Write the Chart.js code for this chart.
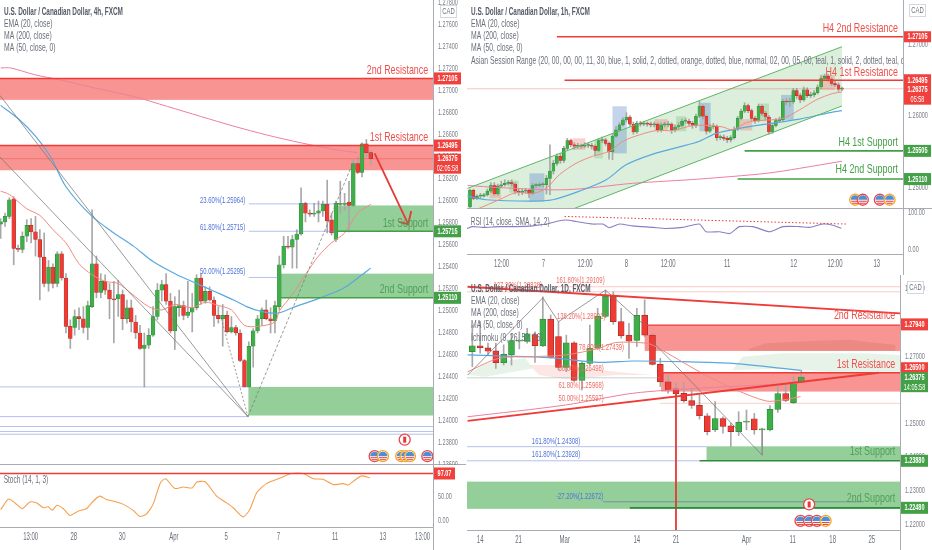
<!DOCTYPE html>
<html lang="en">

<head>
    <meta charset="UTF-8">
    <title>USDCAD</title>
    <script src="https://cdn.jsdelivr.net/npm/chart.js"></script>
    <style>
        html, body { margin: 0; padding: 0; background: #fff; overflow: hidden; }
        canvas { position: absolute; display: block; }
    </style>
</head>

<body>
    <canvas id="c4h" style="left:0;top:0" width="466" height="465"></canvas>
    <canvas id="cStoch" style="left:0;top:465px" width="466" height="85"></canvas>
    <canvas id="c1h" style="left:467px;top:0" width="465" height="209"></canvas>
    <canvas id="cRsi" style="left:467px;top:209px" width="465" height="66"></canvas>
    <canvas id="c1d" style="left:467px;top:275px" width="465" height="275"></canvas>
</body>

</html>
<script>
    // all prices are in 1/10000 (12650 = 1.26500)

    // 4h
    const open4h = [12578,12580,12585,12601,12556,12555,12567,12577,12571,12564,12548,12524,12539,12524,12551,12529,12485,12484,12494,12492,12484,12503,12542,12516,12526,12518,12510,12510,12514,12492,12502,12489,12479,12465,12468,12477,12494,12518,12523,12508,12481,12502,12504,12495,12498,12502,12529,12508,12517,12509,12495,12492,12495,12480,12484,12479,12454,12430,12467,12481,12492,12500,12492,12490,12503,12541,12558,12557,12564,12569,12597,12588,12587,12588,12590,12596,12582,12564,12596,12596,12598,12595,12633,12625,12651,12643];
    const high4h = [12583,12588,12602,12603,12559,12571,12582,12583,12585,12573,12570,12545,12542,12553,12553,12533,12491,12500,12502,12503,12508,12591,12549,12533,12532,12524,12526,12527,12518,12509,12509,12495,12486,12479,12483,12503,12524,12527,12533,12515,12512,12518,12508,12526,12515,12532,12533,12521,12521,12512,12503,12505,12499,12494,12486,12482,12455,12471,12483,12495,12502,12509,12502,12508,12549,12567,12567,12568,12573,12611,12598,12591,12597,12599,12599,12618,12588,12599,12617,12606,12617,12636,12639,12652,12655,12645];
    const low4h = [12565,12576,12583,12541,12553,12552,12562,12561,12549,12509,12521,12517,12520,12521,12527,12479,12465,12477,12482,12479,12473,12502,12511,12511,12514,12492,12470,12494,12482,12488,12480,12474,12464,12430,12465,12476,12491,12508,12505,12479,12464,12494,12491,12493,12480,12500,12505,12506,12508,12485,12488,12467,12479,12479,12477,12453,12430,12430,12448,12479,12486,12491,12479,12479,12500,12538,12556,12538,12538,12568,12580,12585,12585,12580,12585,12570,12568,12562,12588,12591,12571,12594,12624,12621,12638,12632];
    const close4h = [12580,12585,12600,12556,12555,12567,12577,12571,12564,12548,12524,12539,12524,12551,12529,12485,12474,12494,12492,12484,12504,12542,12516,12526,12518,12510,12509,12514,12492,12502,12489,12479,12465,12468,12477,12494,12518,12523,12508,12481,12503,12504,12495,12498,12502,12529,12508,12517,12509,12495,12492,12495,12480,12484,12479,12454,12430,12467,12481,12492,12500,12492,12490,12504,12541,12558,12557,12564,12569,12597,12588,12587,12588,12590,12596,12581,12570,12597,12597,12597,12595,12633,12625,12651,12643,12637.5];

    const ema4hX = [0,2,6,9,12,15,18,21,24,27,30,34,37,40,44,47,50,53,56,59,63,64,67,70,73,76,79,82,85];
    const ema4hY = [12608,12605,12592,12586,12573,12561,12542,12532,12526,12524,12515,12503,12500,12505,12502,12507,12504,12500,12486,12485,12489,12499,12514,12532,12549,12561,12570,12588,12596];
    const ma504hX = [0,4,8,11.5,15,21,26,30.5,35,40.5,45,49,53.5,56.5,59.5,63.5,67,73.4,78.8,83,85];
    const ma504hY = [12686,12674,12658,12639,12612,12585,12570,12558,12544,12532,12524,12517,12509,12503,12499,12497,12502,12511,12520,12532,12538];
    const ma2004hX = [0,2.3,7.7,13.8,21.4,30.6,38.3,45.9,53.6,61.2,68.9,76.5,81.9];
    const ma2004hY = [12720,12720,12714,12709,12702,12694,12685,12676,12667,12659,12652,12646,12643];

    const stochX = [0,1.8,3.3,5,6.7,8.3,9.8,10.9,11.9,12.9,14.4,15.9,18,19.7,21.3,22.8,24.3,26.6,28.2,30.5,32,33.5,35,36.7,37.9,40,41.9,44,45,47,49.6,51.9,53.4,55.7,57.2,58.8,61,64,66.8,69.5,71.8,74,76.4,78.7,79.8,81.3,82.9,84.8];
    const stochY = [22,44,36,24,38,36,26,28,21,31,24,10,20,24,40,50,43,38,33,20,8,13,33,78,86,66,69,67,79,80,50,36,26,7,22,57,76,87,97,97,86,85,74,76,73,83,92,88];

    const ticks4h = [12780,12760,12740,12720,12700,12680,12660,12640,12620,12600,12580,12560,12540,12520,12500,12480,12460,12440,12420,12400,12380,12360];
    const timePos4h = [6.9,16.8,27.9,39.8,51.8,63.8,76.8,87.8,96.9];
    const timeLabels4h = ['13:00','28','30','Apr','5','7','11','13','13:00'];

    // 1h
    const open1h = [12472,12495,12484,12487,12487,12489,12494,12502,12490,12501,12503,12505,12506,12504,12494,12492,12494,12495,12491,12502,12502,12503,12503,12512,12522,12533,12543,12537,12554,12565,12559,12557,12558,12557,12558,12558,12557,12551,12565,12566,12561,12549,12571,12580,12587,12594,12598,12588,12577,12589,12588,12589,12588,12587,12588,12580,12587,12587,12588,12580,12584,12586,12592,12592,12589,12586,12599,12613,12599,12578,12584,12585,12569,12570,12568,12566,12569,12581,12596,12606,12614,12607,12596,12593,12613,12603,12598,12577,12586,12593,12594,12620,12619,12619,12635,12628,12622,12636,12628,12629,12632,12640,12652,12655,12651,12645,12643,12637];
    const high1h = [12497,12497,12489,12491,12491,12497,12506,12506,12504,12508,12510,12509,12510,12506,12497,12497,12498,12497,12505,12505,12506,12506,12516,12559,12537,12546,12547,12557,12568,12567,12562,12561,12560,12562,12561,12561,12559,12568,12570,12568,12563,12575,12585,12590,12597,12604,12600,12591,12592,12592,12592,12591,12591,12591,12590,12590,12591,12592,12590,12587,12590,12595,12596,12595,12592,12602,12620,12615,12601,12588,12589,12587,12573,12573,12571,12572,12584,12599,12609,12618,12616,12609,12599,12616,12615,12606,12600,12589,12596,12598,12623,12624,12624,12638,12638,12631,12640,12639,12633,12635,12643,12656,12658,12658,12653,12648,12646,12640];
    const low1h = [12466,12482,12482,12484,12486,12487,12492,12488,12488,12499,12501,12502,12501,12490,12488,12489,12491,12485,12489,12499,12500,12500,12490,12489,12518,12530,12533,12534,12552,12556,12553,12554,12554,12555,12555,12553,12544,12549,12562,12558,12539,12538,12569,12578,12585,12591,12585,12574,12575,12585,12586,12585,12584,12584,12577,12577,12584,12584,12575,12577,12581,12584,12589,12586,12582,12583,12597,12595,12574,12576,12581,12565,12566,12565,12562,12563,12567,12579,12594,12604,12604,12593,12589,12591,12600,12594,12574,12575,12584,12590,12592,12615,12613,12617,12624,12618,12620,12625,12625,12626,12630,12638,12650,12648,12642,12640,12634,12635];
    const close1h = [12495,12484,12487,12487,12489,12494,12502,12490,12501,12503,12505,12506,12504,12494,12492,12494,12495,12491,12502,12502,12503,12503,12512,12522,12533,12543,12537,12554,12565,12559,12557,12558,12557,12558,12558,12557,12551,12565,12566,12561,12549,12571,12580,12587,12594,12598,12588,12577,12589,12588,12589,12588,12587,12588,12580,12587,12587,12588,12580,12584,12586,12592,12592,12589,12586,12599,12613,12599,12578,12584,12585,12569,12570,12568,12566,12569,12581,12596,12606,12614,12607,12596,12593,12613,12603,12598,12577,12586,12593,12594,12620,12619,12619,12635,12628,12622,12636,12628,12629,12632,12640,12652,12655,12651,12645,12643,12637,12637.5];

    const ema1hX = [2.2,8.4,13.2,18,21.9,25.7,30.5,35.3,40.1,44,48.8,53.6,58.3,64.1,68.9,72.7,75.6,79.5,83.3,90,94.8,99.6,104.4,107];
    const ema1hY = [12469,12482,12492,12491,12498,12517,12533,12543,12550,12564,12573,12579,12579,12586,12586,12584,12580,12590,12593,12596,12608,12622,12631,12633];
    const ma501hX = [-0.7,4.6,17.1,23.8,31.5,39.2,44.9,52.6,60.3,66,70.8,77.5,85.2,94.8,102.5,107];
    const ma501hY = [12487,12482,12480,12482,12494,12510,12531,12546,12556,12564,12575,12582,12588,12595,12603,12607];
    const ma2001hX = [-0.7,8.4,27.6,46.8,66,85.2,94.8,107];
    const ma2001hY = [12502,12499,12496,12505,12511,12519,12526,12536];

    const rsiX = [-0.9,0.8,3.6,8.4,13.2,18,21.9,24.8,27.6,30.5,35.3,38.2,40.1,43,46.8,52.6,56.4,61.2,66,67.9,71.8,74.7,77.5,81.4,86.2,90,94.8,97.7,101.5,104.4,106.8];
    const rsiY = [56,61,59,61,61,63,68,75,79,75,68,68,58,68,63,59,56,59,68,47,47,42,61,61,47,61,61,59,68,65,56];

    const ticks1h = [12700,12600,12500];
    const timePos1h = [9.1,21.1,33.1,45,57,74,93.1,105,117];
    const timeLabels1h = ['12:00','7','12:00','8','12:00','11','12','12:00','13'];

    // 1D
    const open1d = [12713,12730,12724,12715,12680,12703,12744,12743,12764,12730,12810,12758,12666,12739,12627,12678,12723,12818,12878,12802,12762,12746,12821,12762,12675,12623,12602,12589,12567,12553,12522,12481,12514,12492,12475,12503,12513,12480,12480,12541,12588,12561,12622];
    const high1d = [12792,12802,12738,12738,12733,12767,12772,12782,12772,12876,12822,12802,12762,12743,12683,12792,12842,12896,12891,12842,12797,12842,12867,12767,12693,12643,12619,12622,12604,12584,12529,12564,12519,12500,12534,12539,12529,12485,12552,12609,12616,12638,12658];
    const low1d = [12668,12708,12703,12663,12673,12673,12721,12738,12681,12728,12693,12658,12653,12624,12599,12673,12721,12814,12794,12753,12693,12728,12757,12673,12609,12589,12579,12562,12544,12512,12465,12475,12470,12430,12463,12480,12467,12402,12477,12532,12564,12559,12619];
    const close1d = [12730,12725,12714,12680,12705,12746,12746,12766,12730,12810,12696,12666,12739,12627,12678,12723,12818,12878,12802,12760,12744,12821,12762,12675,12623,12599,12588,12567,12553,12522,12475,12514,12490,12475,12503,12506,12480,12482,12541,12588,12568,12622,12637.5];

    const ema1dX = [-0.6,3.4,7.7,11.9,16.2,18.3,22.2,23.4,29,33.2,37.5,39.6,41.9];
    const ema1dY = [12653,12693,12698,12703,12723,12740,12738,12728,12653,12604,12566,12569,12579];
    const ma501dX = [-0.6,3.4,9.8,16.2,20.5,26.8,33.2,39.6,41.9];
    const ma501dY = [12703,12700,12695,12681,12685,12683,12678,12663,12657];
    const ma2001dX = [-0.6,11.9,20.5,29,41.7];
    const ma2001dY = [12519,12554,12589,12604,12619];

    const ticks1d = [12900,12800,12700,12600,12500,12400,12300,12200];
    const timePos1d = [1,5.9,11.8,21,26,35,40.9,46,51];
    const timeLabels1d = ['14','21','Mar','14','21','Apr','11','18','25'];

    const sans = '"Liberation Sans", sans-serif';
    const redLine = '#ef3a36';
    const greenLine = '#43a047';
    const redZone = 'rgba(242,60,55,0.55)';
    const greenZone = 'rgba(60,165,70,0.55)';
    const blueFib = 'rgba(110,130,225,0.5)';
    const greyFib = 'rgba(120,120,120,0.75)';
    const emaColor = '#ef8a80';
    const ma50Color = '#5aa9de';
    const ma200Color = '#ee7f9c';
    const bigLabel = '13.5px ' + sans;
    const fibFont = '9.5px ' + sans;

    // the screenshot is squeezed sideways, so every text is drawn narrow
    function squeezed(c, text, x, y, font, color, align, sx) {
        c.save();
        c.font = font;
        c.fillStyle = color;
        c.textAlign = align || 'left';
        c.textBaseline = 'middle';
        c.translate(x, y);
        c.scale(sx || 0.6, 1);
        c.fillText(text, 0, 0);
        c.restore();
    }

    function zipXY(xs, ys) {
        return xs.map(function (x, i) { return { x: x, y: ys[i] }; });
    }

    function lineSet(xs, ys, color, width, order) {
        return {
            type: 'line', data: zipXY(xs, ys), borderColor: color, borderWidth: width,
            pointRadius: 0, tension: 0.3, order: order || 1
        };
    }

    function candleSets(o, h, l, c, bodyW, border) {
        var wick = o.map(function (v, i) { return { x: i, y: [l[i] / 1e4, h[i] / 1e4] }; });
        var body = o.map(function (v, i) { return { x: i, y: [o[i] / 1e4, c[i] / 1e4] }; });
        var up = o.map(function (v, i) { return c[i] >= o[i]; });
        return [
            { type: 'bar', data: wick, backgroundColor: '#a8a8a8', barThickness: 1, grouped: false, order: 3 },
            {
                type: 'bar', data: body, grouped: false, order: 2, barThickness: bodyW, borderWidth: border, borderSkipped: false,
                minBarLength: 1,
                backgroundColor: up.map(function (u) { return u ? '#3fae49' : '#ee3b33'; }),
                borderColor: up.map(function (u) { return u ? '#2b8a38' : '#a82a2a'; })
            }
        ];
    }

    function priceLine(set) {
        return set.map(function (d) { return { x: d.x, y: d.y / 1e4 }; });
    }

    // draws zones, fib lines, labels etc. through the chart scales
    function overlays(cfg) {
        function X(ch, v) { return ch.scales.x.getPixelForValue(v); }
        function Y(ch, v) { return cfg.indicator ? ch.scales.y.getPixelForValue(v) : ch.scales.y.getPixelForValue(v / 1e4); }
        return {
            id: 'overlays',
            beforeDatasetsDraw: function (ch) {
                var c = ch.ctx, a = ch.chartArea;
                c.save();
                c.beginPath(); c.rect(a.left, a.top, a.width, a.height); c.clip();
                (cfg.polys || []).forEach(function (p) {
                    c.fillStyle = p.color;
                    c.beginPath();
                    p.pts.forEach(function (q, i) {
                        if (i) c.lineTo(X(ch, q[0]), Y(ch, q[1])); else c.moveTo(X(ch, q[0]), Y(ch, q[1]));
                    });
                    c.closePath(); c.fill();
                });
                (cfg.zones || []).forEach(function (z) {
                    c.fillStyle = z.color;
                    var x0 = X(ch, z.from), x1 = z.to === undefined ? a.right : X(ch, z.to);
                    var y0 = Y(ch, z.top), y1 = Y(ch, z.bottom);
                    c.fillRect(x0, y0, x1 - x0, y1 - y0);
                });
                c.restore();
            },
            afterDatasetsDraw: function (ch) {
                var c = ch.ctx, a = ch.chartArea;
                c.save();
                c.beginPath(); c.rect(a.left, a.top, a.width, a.height); c.clip();
                (cfg.lines || []).forEach(function (l) {
                    c.strokeStyle = l.color; c.lineWidth = l.width || 1;
                    c.setLineDash(l.dash || []);
                    c.beginPath();
                    l.pts.forEach(function (q, i) {
                        if (i) c.lineTo(X(ch, q[0]), Y(ch, q[1])); else c.moveTo(X(ch, q[0]), Y(ch, q[1]));
                    });
                    c.stroke();
                });
                c.setLineDash([]);
                (cfg.icons || []).forEach(function (p) {
                    var x = X(ch, p[0]), y = Y(ch, p[1]);
                    c.beginPath(); c.arc(x, y, 5.5, 0, Math.PI * 2);
                    c.fillStyle = '#fff'; c.fill();
                    c.beginPath(); c.arc(x, y, 4.5, Math.PI, Math.PI * 2);
                    c.fillStyle = p[2] === 'ca' ? '#fff' : '#4a90d9'; c.fill();
                    c.fillStyle = '#e53935';
                    if (p[2] === 'ca') c.fillRect(x - 1.5, y - 3, 3, 6);
                    else { c.fillRect(x - 4, y + 1, 8, 1); c.fillRect(x - 3, y + 3, 6, 1); }
                    c.beginPath(); c.arc(x, y, 5.5, 0, Math.PI * 2);
                    c.strokeStyle = p[3] || '#e5484d'; c.lineWidth = 1.3; c.stroke();
                });
                (cfg.texts || []).forEach(function (t) {
                    squeezed(c, t.text, X(ch, t.x), Y(ch, t.y), t.font || fibFont, t.color, t.align, t.font === bigLabel ? 0.66 : 0.62);
                });
                (cfg.legend || []).forEach(function (t, i) {
                    squeezed(c, t, a.left + cfg.legendX, cfg.legendY + i * cfg.legendStep,
                        (i === 0 ? 'bold ' : '') + '10.5px ' + sans, i === 0 ? '#555a66' : '#6b6f7a', 'left', i === 0 ? 0.61 : 0.65);
                });
                c.restore();
            },
            afterDraw: function (ch) {
                var c = ch.ctx, a = ch.chartArea;
                c.save();
                // axis frame
                c.strokeStyle = '#a9acb3'; c.lineWidth = 1;
                c.beginPath();
                c.moveTo(a.right + 0.5, 0); c.lineTo(a.right + 0.5, ch.height);
                if (cfg.paneLine) { c.moveTo(0, a.bottom - 0.5); c.lineTo(ch.width, a.bottom - 0.5); }
                c.stroke();
                // tick labels from the library's own ticks
                ch.scales.y.ticks.forEach(function (t) {
                    squeezed(c, t.value.toFixed(cfg.yDigits), a.right + 5, ch.scales.y.getPixelForValue(t.value), '9.5px ' + sans, '#7b7f8a', 'left', 0.58);
                });
                if (cfg.timePos) {
                    ch.scales.x.ticks.forEach(function (t) {
                        squeezed(c, cfg.timeLabels[cfg.timePos.indexOf(t.value)], ch.scales.x.getPixelForValue(t.value), a.bottom + 10, '10px ' + sans, '#6b6f7a', 'center', 0.6);
                    });
                }
                (cfg.badges || []).forEach(function (b) {
                    var lines = b.text.length;
                    var h = b.h || (lines * 11 + 1);
                    var w = b.w || 27;
                    var y = (cfg.indicator ? ch.scales.y.getPixelForValue(b.y) : ch.scales.y.getPixelForValue(b.y / 1e4)) - h / 2;
                    c.fillStyle = b.color;
                    c.fillRect(a.right + 1, y, w, h);
                    b.text.forEach(function (s, i) {
                        squeezed(c, s, a.right + 1 + w / 2, y + (i + 0.5) * h / lines, (i === 0 ? 'bold ' : '') + '9.5px ' + sans, '#fff', 'center', 0.58);
                    });
                });
                if (cfg.cad) {
                    c.fillStyle = '#fff'; c.strokeStyle = '#d5d7dc'; c.lineWidth = 1;
                    c.fillRect(a.right + cfg.cad[0], cfg.cad[1], 16, 12);
                    c.strokeRect(a.right + cfg.cad[0] + 0.5, cfg.cad[1] + 0.5, 16, 12);
                    squeezed(c, 'CAD', a.right + cfg.cad[0] + 8.5, cfg.cad[1] + 6.5, '9.5px ' + sans, '#6b6f7a', 'center', 0.62);
                }
                c.restore();
            }
        };
    }

    function pane(id, cfg) {
        var canvas = document.getElementById(id);
        var axisW = canvas.width - cfg.plotW;
        var axisH = canvas.height - cfg.plotH;
        new Chart(canvas, {
            type: 'bar',
            data: { datasets: cfg.datasets },
            options: {
                responsive: false, animation: false, events: [],
                layout: { padding: 0 },
                plugins: { legend: { display: false }, tooltip: { enabled: false } },
                scales: {
                    x: {
                        type: 'linear', offset: false, min: cfg.xMin, max: cfg.xMax,
                        display: axisH > 0,
                        grid: { display: false, offset: false },
                        border: { display: axisH > 0, color: '#a9acb3' },
                        afterBuildTicks: function (s) { s.ticks = (cfg.timePos || []).map(function (v) { return { value: v }; }); },
                        afterFit: function (s) { s.height = axisH; s.paddingLeft = 0; s.paddingRight = 0; },
                        ticks: { display: false, autoSkip: false }
                    },
                    y: {
                        type: 'linear', position: 'right', min: cfg.yMin, max: cfg.yMax,
                        grid: { display: false },
                        border: { display: false },
                        afterBuildTicks: function (s) { s.ticks = cfg.yTicks.map(function (v) { return { value: v }; }); },
                        afterFit: function (s) { s.width = axisW; s.paddingTop = 0; s.paddingBottom = 0; },
                        ticks: { display: false, autoSkip: false }
                    }
                }
            },
            plugins: [overlays(cfg)]
        });
    }

    function scaledLine(xs, ys, color, width) {
        var s = lineSet(xs, ys, color, width);
        s.data = priceLine(s.data);
        return s;
    }

    // ---- 4h pane
    pane('c4h', {
        plotW: 433, plotH: 465, xMin: -0.15, xMax: 99.3, yMin: 1.2359, yMax: 1.27818,
        yTicks: ticks4h.map(function (v) { return v / 1e4; }), yDigits: 5, paneLine: true,
        datasets: candleSets(open4h, high4h, low4h, close4h, 3.8, 0.5).concat([
            scaledLine(ema4hX, ema4hY, emaColor, 1),
            scaledLine(ma504hX, ma504hY, ma50Color, 1.2),
            scaledLine(ma2004hX, ma2004hY, ma200Color, 1)
        ]),
        zones: [
            { from: -1, top: 12710.5, bottom: 12691, color: redZone },
            { from: -1, top: 12649.5, bottom: 12627, color: redZone },
            { from: 77, top: 12595, bottom: 12571.5, color: greenZone },
            { from: 64.3, top: 12533, bottom: 12511, color: greenZone },
            { from: 56.9, top: 12430, bottom: 12404, color: greenZone }
        ],
        lines: [
            { pts: [[-1, 12710.5], [120, 12710.5]], color: redLine, width: 1.5 },
            { pts: [[-1, 12649.5], [120, 12649.5]], color: redLine, width: 1.5 },
            { pts: [[-1, 12637.5], [120, 12637.5]], color: 'rgba(239,58,54,0.35)' },
            { pts: [[77, 12571.5], [120, 12571.5]], color: greenLine, width: 1.5 },
            { pts: [[64.3, 12511], [120, 12511]], color: greenLine, width: 1.5 },
            { pts: [[57, 12596.4], [77, 12596.4]], color: blueFib },
            { pts: [[57, 12571.5], [77, 12571.5]], color: blueFib },
            { pts: [[57, 12529.5], [64, 12529.5]], color: blueFib },
            { pts: [[-1, 12430], [57, 12430]], color: blueFib },
            { pts: [[-1, 12403], [57, 12403]], color: blueFib },
            { pts: [[-1, 12394], [120, 12394]], color: blueFib },
            { pts: [[-1, 12389.5], [120, 12389.5]], color: blueFib },
            { pts: [[-1, 12387], [120, 12387]], color: blueFib },
            { pts: [[-0.15, 12695], [56.8, 12403]], color: greyFib },
            { pts: [[-0.15, 12639], [56.8, 12403]], color: greyFib },
            { pts: [[50.7, 12492], [56.8, 12403]], color: greyFib, dash: [2, 2] },
            { pts: [[56.8, 12403], [80.6, 12631]], color: greyFib, dash: [3, 2] },
            { pts: [[85.9, 12642.4], [93.6, 12578]], color: '#e53935', width: 1.8 },
            { pts: [[94.3, 12590], [93.6, 12578], [91.5, 12580]], color: '#e53935', width: 1.8 }
        ],
        texts: [
            { x: 98.2, y: 12718, text: '2nd Resistance', color: '#ef4f4a', font: bigLabel, align: 'right' },
            { x: 98.2, y: 12657, text: '1st Resistance', color: '#ef4f4a', font: bigLabel, align: 'right' },
            { x: 98.2, y: 12579, text: '1st Support', color: '#4f9f57', font: bigLabel, align: 'right' },
            { x: 98.2, y: 12519, text: '2nd Support', color: '#4f9f57', font: bigLabel, align: 'right' },
            { x: 45.8, y: 12600, text: '23.60%(1.25964)', color: '#4f74d9' },
            { x: 45.8, y: 12575, text: '61.80%(1.25715)', color: '#4f74d9' },
            { x: 45.8, y: 12535, text: '50.00%(1.25295)', color: '#4f74d9' }
        ],
        icons: [[85.9, 12367, 'us'], [87.8, 12367, 'us', '#f5a623'], [92, 12367, 'us', '#f5a623'], [93, 12367, 'us', '#f5a623'], [94, 12367, 'us', '#f5a623'], [98, 12367, 'us'], [92.8, 12382, 'ca']],
        legend: ['U.S. Dollar / Canadian Dollar, 4h, FXCM', 'EMA (20, close)', 'MA (200, close)', 'MA (50, close, 0)'],
        legendX: 4, legendY: 12, legendStep: 12.2,
        badges: [
            { y: 12710.5, text: ['1.27105'], color: '#f0413c' },
            { y: 12649.5, text: ['1.26495'], color: '#f0413c' },
            { y: 12633, text: ['1.26375', '02:05:58'], color: '#f0413c', h: 20 },
            { y: 12571.5, text: ['1.25715'], color: '#43a047' },
            { y: 12511, text: ['1.25110'], color: '#43a047' }
        ],
        cad: [7, 5]
    });

    // ---- stochastic under the 4h pane
    pane('cStoch', {
        indicator: true, plotW: 433, plotH: 62, xMin: -0.15, xMax: 99.3, yMin: -13.9, yMax: 114.6,
        yTicks: [50, 0], yDigits: 2, timePos: timePos4h, timeLabels: timeLabels4h,
        datasets: [
            { type: 'line', data: zipXY(stochX, stochY), borderColor: '#f5a04c', borderWidth: 1.1, pointRadius: 0, tension: 0.2 }
        ],
        lines: [{ pts: [[-1, 97], [120, 97]], color: redLine, width: 1.5 }],
        texts: [{ x: 0.7, y: 83, text: 'Stoch (14, 1, 3)', color: '#6b6f7a', font: '10.5px ' + sans }],
        badges: [{ y: 97, text: ['97.07'], color: '#f0413c', w: 21 }]
    });

    // ---- 1h pane
    pane('c1h', {
        plotW: 436, plotH: 209, xMin: -0.86, xMax: 124.56, yMin: 1.2469, yMax: 1.2762,
        yTicks: ticks1h.map(function (v) { return v / 1e4; }), yDigits: 5, paneLine: true,
        datasets: candleSets(open1h, high1h, low1h, close1h, 3, 0.4).concat([
            scaledLine(ema1hX, ema1hY, emaColor, 1),
            scaledLine(ma501hX, ma501hY, ma50Color, 1.2),
            scaledLine(ma2001hX, ma2001hY, ma200Color, 1)
        ]),
        polys: [
            { pts: [[-0.7, 12498], [107, 12696.5], [107, 12613.5], [29.6, 12469], [-0.7, 12469]], color: 'rgba(76,175,80,0.2)' }
        ],
        zones: [
            { from: 29.4, to: 33.2, top: 12568, bottom: 12552, color: 'rgba(240,120,110,0.35)' },
            { from: 5.6, to: 8.9, top: 12503, bottom: 12484, color: 'rgba(240,120,110,0.35)' },
            { from: 53.1, to: 56.9, top: 12595, bottom: 12579, color: 'rgba(240,120,110,0.35)' },
            { from: 77.5, to: 81.2, top: 12595, bottom: 12579, color: 'rgba(240,120,110,0.35)' },
            { from: 100.6, to: 104.9, top: 12657, bottom: 12636, color: 'rgba(240,120,110,0.35)' },
            { from: 17.1, to: 21.4, top: 12519, bottom: 12479, color: 'rgba(70,120,200,0.32)' },
            { from: 41, to: 45.1, top: 12613, bottom: 12547, color: 'rgba(70,120,200,0.32)' },
            { from: 66, to: 69.2, top: 12618, bottom: 12578, color: 'rgba(70,120,200,0.32)' },
            { from: 89.5, to: 93.1, top: 12629, bottom: 12594, color: 'rgba(70,120,200,0.32)' },
            { from: 11.3, to: 14, top: 12509, bottom: 12492, color: 'rgba(76,175,80,0.25)' },
            { from: 35.8, to: 38.2, top: 12566, bottom: 12540, color: 'rgba(76,175,80,0.25)' },
            { from: 59.3, to: 62.2, top: 12599, bottom: 12578, color: 'rgba(76,175,80,0.25)' },
            { from: 82.8, to: 86, top: 12617, bottom: 12592, color: 'rgba(76,175,80,0.25)' }
        ],
        lines: [
            { pts: [[-0.7, 12498], [107, 12696.5]], color: '#5fb565' },
            { pts: [[29.6, 12469], [107, 12613.5]], color: '#5fb565' },
            { pts: [[-2, 12637.5], [130, 12637.5]], color: 'rgba(239,58,54,0.3)' },
            { pts: [[25, 12710.5], [130, 12710.5]], color: redLine, width: 1.6 },
            { pts: [[27.2, 12649.5], [130, 12649.5]], color: redLine, width: 1.6 },
            { pts: [[79, 12550.5], [130, 12550.5]], color: greenLine, width: 1.6 },
            { pts: [[77, 12511], [130, 12511]], color: greenLine, width: 1.6 }
        ],
        texts: [
            { x: 123.1, y: 12723, text: 'H4 2nd Resistance', color: '#ef4f4a', font: bigLabel, align: 'right' },
            { x: 123.1, y: 12661, text: 'H4 1st Resistance', color: '#ef4f4a', font: bigLabel, align: 'right' },
            { x: 123.1, y: 12563, text: 'H4 1st Support', color: '#43a047', font: bigLabel, align: 'right' },
            { x: 123.1, y: 12524, text: 'H4 2nd Support', color: '#43a047', font: bigLabel, align: 'right' }
        ],
        icons: [[110.8, 12482, 'us', '#f5a623'], [113, 12482, 'us'], [117.9, 12482, 'us'], [120.7, 12482, 'us', '#f5a623']],
        legend: ['U.S. Dollar / Canadian Dollar, 1h, FXCM', 'EMA (20, close)', 'MA (200, close)', 'MA (50, close, 0)', 'Asian Session Range (20, 00, 00, 00, 11, 30, blue, 1, solid, 2, dotted, orange, dotted, blue, normal, 02, 00, 05, 00, teal, 1, solid, 2, dotted, teal, dotted,'],
        legendX: 4, legendY: 12, legendStep: 12.2,
        badges: [
            { y: 12710.5, text: ['1.27105'], color: '#f0413c', h: 11 },
            { y: 12649.5, text: ['1.26495'], color: '#f0413c', h: 12 },
            { y: 12630, text: ['1.26375', '05:58'], color: '#f0413c', h: 21 },
            { y: 12550.5, text: ['1.25505'], color: '#43a047' },
            { y: 12511, text: ['1.25110'], color: '#43a047' }
        ],
        cad: [6, 4]
    });

    // ---- RSI under the 1h pane
    pane('cRsi', {
        indicator: true, plotW: 436, plotH: 45, xMin: -0.86, xMax: 124.56, yMin: -14, yMax: 109.3,
        yTicks: [100, 0], yDigits: 2, timePos: timePos1h, timeLabels: timeLabels1h,
        datasets: [
            { type: 'line', data: zipXY(rsiX, rsiY), borderColor: '#8e7cc3', borderWidth: 1.1, pointRadius: 0, tension: 0.2 }
        ],
        lines: [{ pts: [[27.2, 89], [108.7, 68]], color: '#ef3a36', width: 1, dash: [1.5, 2] }],
        texts: [{ x: 0.2, y: 73, text: 'RSI (14, close, SMA, 14, 2)', color: '#6b6f7a', font: '10.5px ' + sans }]
    });

    // ---- daily pane
    pane('c1d', {
        plotW: 433, plotH: 255, xMin: -0.68, xMax: 54.6, yMin: 1.2182, yMax: 1.2941,
        yTicks: ticks1d.map(function (v) { return v / 1e4; }), yDigits: 5,
        timePos: timePos1d, timeLabels: timeLabels1d,
        datasets: candleSets(open1d, high1d, low1d, close1d, 6, 0.7).concat([
            scaledLine(ema1dX, ema1dY, emaColor, 1),
            scaledLine(ma501dX, ma501dY, ma50Color, 1.2),
            scaledLine(ma2001dX, ma2001dY, ma200Color, 1)
        ]),
        polys: [
            { pts: [[-0.6, 12643], [1.7, 12678], [6.8, 12693], [7.7, 12663], [1.7, 12638]], color: 'rgba(120,190,130,0.18)' },
            { pts: [[7.3, 12673], [11.1, 12673], [18.3, 12653], [23, 12643], [18.3, 12643], [12, 12631], [8.5, 12643]], color: 'rgba(240,120,110,0.18)' },
            { pts: [[33.2, 12658], [34.5, 12698], [39.6, 12708], [50.2, 12708], [54.6, 12703], [54.6, 12653], [46, 12653], [39.6, 12661]], color: 'rgba(120,190,130,0.18)' },
            { pts: [[35.3, 12721], [37.5, 12738], [41.7, 12743], [48, 12748], [54, 12733], [54, 12715], [35.3, 12715]], color: 'rgba(100,120,70,0.18)' }
        ],
        zones: [
            { from: 22, top: 12792, bottom: 12715, color: redZone },
            { from: 24.1, top: 12650, bottom: 12594, color: redZone },
            { from: 29.9, top: 12431, bottom: 12388, color: greenZone },
            { from: -1, top: 12326, bottom: 12245, color: greenZone }
        ],
        lines: [
            { pts: [[-1, 12906], [60, 12906]], color: 'rgba(239,100,90,0.35)' },
            { pts: [[-1, 12891], [60, 12891]], color: 'rgba(239,100,90,0.35)' },
            { pts: [[-1, 12635], [24, 12635]], color: 'rgba(140,170,160,0.5)' },
            { pts: [[24, 12559], [60, 12559]], color: 'rgba(239,100,90,0.3)' },
            { pts: [[-1, 12430], [29.9, 12430]], color: blueFib },
            { pts: [[-1, 12388], [29, 12388]], color: blueFib },
            { pts: [[16.7, 12266], [50, 12266]], color: 'rgba(90,110,150,0.6)' },
            { pts: [[-0.6, 12643], [9, 12873], [11, 12802], [17, 12896], [22.2, 12787]], color: greyFib },
            { pts: [[23, 12743], [37, 12405], [37, 12480]], color: greyFib },
            { pts: [[-0.6, 12906], [54.6, 12827]], color: redLine, width: 1.8 },
            { pts: [[-0.6, 12507], [51.9, 12650]], color: redLine, width: 1.8 },
            { pts: [[24.1, 12650], [60, 12650]], color: redLine, width: 1.3 },
            { pts: [[22, 12792], [60, 12792]], color: redLine, width: 1.3 },
            { pts: [[26, 12599], [26, 12182]], color: '#e53935', width: 1.8 },
            { pts: [[29, 12388], [60, 12388]], color: '#2e8b3a', width: 1.6 },
            { pts: [[20.1, 12248], [60, 12248]], color: '#2e8b3a', width: 1.6 }
        ],
        texts: [
            { x: 10.7, y: 12924, text: '161.80%(1.29109)', color: '#ef6a60' },
            { x: 2.7, y: 12911, text: '127.20%(1.28828)', color: '#ef6a60' },
            { x: 10.8, y: 12817, text: '138.20%(1.28901)', color: '#ef6a60' },
            { x: 13.6, y: 12725, text: '78.60%(1.27439)', color: '#ef6a60' },
            { x: 11, y: 12663, text: '50.00%(1.26498)', color: '#ef6a60' },
            { x: 11, y: 12611, text: '61.80%(1.25968)', color: '#ef6a60' },
            { x: 11, y: 12574, text: '50.00%(1.25597)', color: '#ef6a60' },
            { x: 7.6, y: 12445, text: '161.80%(1.24308)', color: '#4f74d9' },
            { x: 7.6, y: 12408, text: '161.80%(1.23928)', color: '#4f74d9' },
            { x: 10.7, y: 12281, text: '-27.20%(1.22672)', color: '#4f74d9' },
            { x: 54, y: 12820, text: '2nd Resistance', color: '#ef4f4a', font: bigLabel, align: 'right' },
            { x: 54, y: 12675, text: '1st Resistance', color: '#ef4f4a', font: bigLabel, align: 'right' },
            { x: 54, y: 12415, text: '1st Support', color: '#4f9f57', font: bigLabel, align: 'right' },
            { x: 54, y: 12276, text: '2nd Support', color: '#4f9f57', font: bigLabel, align: 'right' }
        ],
        icons: [[41.9, 12209, 'us'], [43, 12209, 'us'], [44, 12209, 'us'], [45.1, 12209, 'us', '#f5a623'], [43, 12258, 'ca']],
        legend: ['U.S. Dollar / Canadian Dollar, 1D, FXCM', 'EMA (20, close)', 'MA (200, close)', 'MA (50, close, 0)', 'Ichimoku (9, 26, 52, 26)'],
        legendX: 4, legendY: 14, legendStep: 12.2,
        badges: [
            { y: 12794, text: ['1.27940'], color: '#f0413c' },
            { y: 12665, text: ['1.26500'], color: '#f0413c', h: 11 },
            { y: 12622, text: ['1.26375', '14:05:58'], color: '#43a047', h: 20 },
            { y: 12388, text: ['1.23880'], color: '#43a047' },
            { y: 12248, text: ['1.22480'], color: '#43a047' }
        ],
        cad: [7, 6]
    });
</script>
